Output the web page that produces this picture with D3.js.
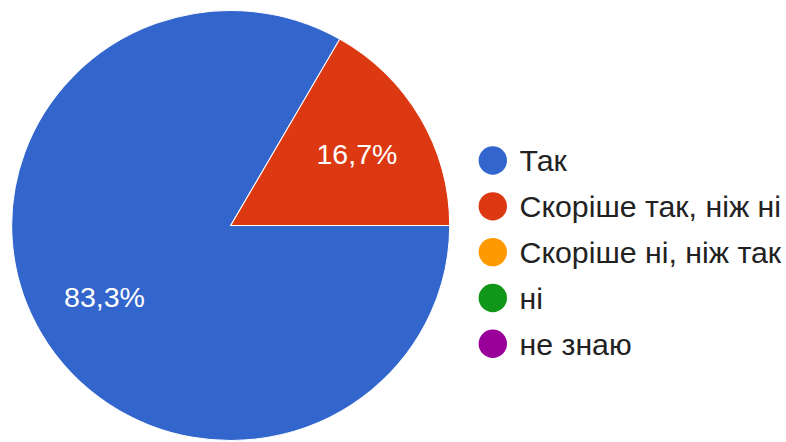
<!DOCTYPE html>
<html>
<head>
<meta charset="utf-8">
<script src="https://cdn.jsdelivr.net/npm/d3@7/dist/d3.min.js"></script>
<style>
  html, body { margin: 0; padding: 0; background: #fff; }
  svg { display: block; }
  text { font-family: Arial, "Liberation Sans", sans-serif; }
</style>
</head>
<body>
<svg id="chart" width="786" height="442"></svg>
<script>
const categories = ["Так", "Скоріше так, ніж ні", "Скоріше ні, ніж так", "ні", "не знаю"];
const values = [83.3, 16.7, 0, 0, 0];
const colors = ["#3366cc", "#dc3912", "#ff9900", "#109618", "#990099"];
const labelTexts = ["83,3%", "16,7%", "", "", ""];

const W = 786, H = 442;
const cx = 230.7, cy = 225.5;
const rx = 219, ry = 215;
const sx = rx / ry;

const svg = d3.select("#chart");

const data = categories.map((c, i) => ({ name: c, value: values[i], color: colors[i], label: labelTexts[i] }));

const pie = d3.pie()
  .value(d => d.value)
  .sort(null)
  .startAngle(Math.PI / 2)
  .endAngle(Math.PI / 2 + 2 * Math.PI);

const arcs = pie(data).filter(a => a.data.value > 0);

const arc = d3.arc().innerRadius(0).outerRadius(ry);
const labelArc = d3.arc().innerRadius(ry * 0.666).outerRadius(ry * 0.666);

const g = svg.append("g")
  .attr("transform", `translate(${cx},${cy}) scale(${sx},1)`);

g.selectAll("path")
  .data(arcs)
  .join("path")
  .attr("d", arc)
  .attr("fill", d => d.data.color)
  .attr("stroke", "#ffffff")
  .attr("stroke-width", 1);

svg.selectAll("text.slice")
  .data(arcs)
  .join("text")
  .attr("class", "slice")
  .attr("x", d => cx + labelArc.centroid(d)[0] * sx)
  .attr("y", d => cy + labelArc.centroid(d)[1])
  .attr("dy", "0.35em")
  .attr("text-anchor", "middle")
  .attr("fill", "#ffffff")
  .attr("font-size", 28.5)
  .text(d => d.data.label);

const legendY = d3.scalePoint()
  .domain(categories)
  .range([160.5, 343.8]);

const legend = svg.append("g");
const items = legend.selectAll("g")
  .data(data)
  .join("g")
  .attr("transform", d => `translate(0,${legendY(d.name)})`);

items.append("circle")
  .attr("cx", 492.8)
  .attr("cy", 0)
  .attr("r", 14.2)
  .attr("fill", d => d.color);

items.append("text")
  .attr("x", 519.5)
  .attr("y", 0)
  .attr("dy", "0.36em")
  .attr("fill", "#222222")
  .attr("font-size", 30.3)
  .text(d => d.name);
</script>
</body>
</html>
